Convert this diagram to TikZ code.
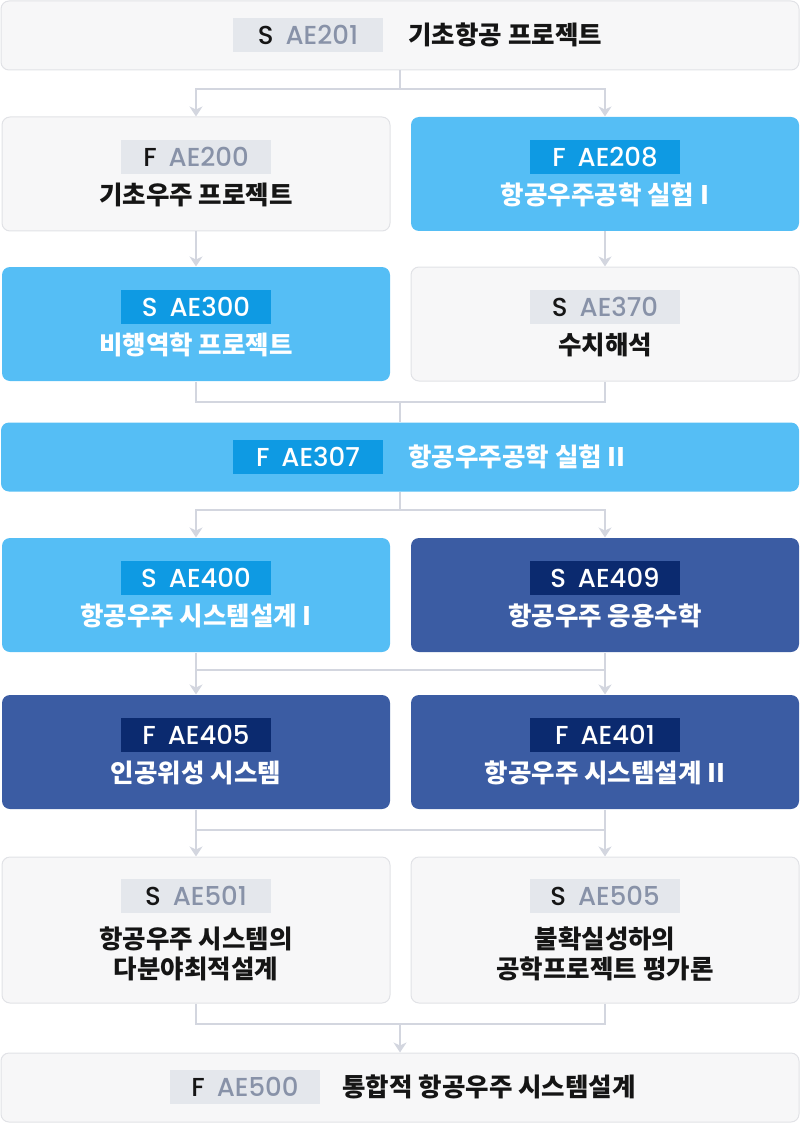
\documentclass[tikz,border=0pt]{standalone}
\usepackage{fontspec}
\usetikzlibrary{arrows.meta}
\newfontfamily\kr{Noto Sans CJK KR}
\newfontfamily\code{Poppins}[UprightFont=* Medium]
\definecolor{boxgray}{HTML}{F7F7F8}
\definecolor{boxline}{HTML}{E1E2E6}
\definecolor{taggray}{HTML}{E4E7EC}
\definecolor{tagtext}{HTML}{8892A8}
\definecolor{ink}{HTML}{151515}
\definecolor{skyblue}{HTML}{55BEF5}
\definecolor{skytag}{HTML}{0E9AE3}
\definecolor{navyblue}{HTML}{3B5CA3}
\definecolor{navytag}{HTML}{0B2A6F}
\definecolor{linkgray}{HTML}{D3D6DF}
\begin{document}
\begin{tikzpicture}
    [
    x=1pt,y=-1pt,
    box/.style={rectangle,rounded corners=8pt,draw=boxline,line width=1pt,fill=boxgray,inner sep=0pt,minimum width=388pt,minimum height=114pt},
    wide/.style={box,minimum width=798pt,minimum height=69pt},
    tall/.style={box,minimum height=146pt},
    sky/.style={draw=none,fill=skyblue},
    navy/.style={draw=none,fill=navyblue},
    tag/.style={rectangle,fill=taggray,text=tagtext,inner sep=0pt,minimum width=150pt,minimum height=34pt,font=\code\fontsize{26}{26}\selectfont},
    skycode/.style={tag,fill=skytag,text=white},
    navycode/.style={tag,fill=navytag,text=white},
    title/.style={font=\kr\bfseries\fontsize{25.5}{30}\selectfont,text=ink,align=center},
    white/.style={text=white},
    line/.style={draw=linkgray,line width=2pt},
    link/.style={line,-{Stealth[length=10pt,width=13pt,inset=3pt]}}
    ]
    \useasboundingbox (0,0) rectangle (800,1123);
    % courses
    \node (ae201) at (400,35.5) [wide] {};
    \node (ae200) at (196,174) [box] {};
    \node (ae208) at (605,174) [box,sky] {};
    \node (ae300) at (196,324) [box,sky] {};
    \node (ae370) at (605,324) [box] {};
    \node (ae307) at (400,457) [wide,sky] {};
    \node (ae400) at (196,595) [box,sky] {};
    \node (ae409) at (605,595) [box,navy] {};
    \node (ae405) at (196,752) [box,navy] {};
    \node (ae401) at (605,752) [box,navy] {};
    \node (ae501) at (196,930) [tall] {};
    \node (ae505) at (605,930) [tall] {};
    \node (ae500) at (400,1087.5) [wide] {};
    % codes and names
    \node (c201) at (308,35) [tag] {\textcolor{ink}{S}\hspace{12pt}AE201};
    \node (n201) at (405,35) [title,anchor=west] {기초항공 프로젝트};
    \node (c200) at (196,157) [tag] {\textcolor{ink}{F}\hspace{12pt}AE200};
    \node (n200) at (196,195) [title] {기초우주 프로젝트};
    \node (c208) at (605,157) [skycode] {F\hspace{12pt}AE208};
    \node (n208) at (605,195) [title,white] {항공우주공학 실험 I};
    \node (c300) at (196,307) [skycode] {S\hspace{12pt}AE300};
    \node (n300) at (196,345) [title,white] {비행역학 프로젝트};
    \node (c370) at (605,307) [tag] {\textcolor{ink}{S}\hspace{12pt}AE370};
    \node (n370) at (605,345) [title] {수치해석};
    \node (c307) at (308,457) [skycode] {F\hspace{12pt}AE307};
    \node (n307) at (405,457) [title,white,anchor=west] {항공우주공학 실험 II};
    \node (c400) at (196,578) [skycode] {S\hspace{12pt}AE400};
    \node (n400) at (196,616) [title,white] {항공우주 시스템설계 I};
    \node (c409) at (605,578) [navycode] {S\hspace{12pt}AE409};
    \node (n409) at (605,616) [title,white] {항공우주 응용수학};
    \node (c405) at (196,735) [navycode] {F\hspace{12pt}AE405};
    \node (n405) at (196,773) [title,white] {인공위성 시스템};
    \node (c401) at (605,735) [navycode] {F\hspace{12pt}AE401};
    \node (n401) at (605,773) [title,white] {항공우주 시스템설계 II};
    \node (c501) at (196,896) [tag] {\textcolor{ink}{S}\hspace{12pt}AE501};
    \node (n501) at (196,954) [title] {항공우주 시스템의\\다분야최적설계};
    \node (c505) at (605,896) [tag] {\textcolor{ink}{S}\hspace{12pt}AE505};
    \node (n505) at (605,954) [title] {불확실성하의\\공학프로젝트 평가론};
    \node (c500) at (245,1087) [tag] {\textcolor{ink}{F}\hspace{12pt}AE500};
    \node (n500) at (339,1087) [title,anchor=west] {통합적 항공우주 시스템설계};
    % junctions
    \coordinate (j1) at (400,89);
    \coordinate (j2) at (400,402);
    \coordinate (j3) at (400,510);
    \coordinate (j4) at (400,670);
    \coordinate (j5) at (400,830);
    \coordinate (j6) at (400,1024);
    % prerequisites
    \draw [link] (ae201) -- (j1) -| (ae200);
    \draw [link] (j1) -| (ae208);
    \draw [link] (ae200) -- (ae300);
    \draw [link] (ae208) -- (ae370);
    \draw [line] (ae300) |- (j2) -| (ae370);
    \draw [line] (j2) -- (ae307);
    \draw [link] (ae307) -- (j3) -| (ae400);
    \draw [link] (j3) -| (ae409);
    \draw [line] (ae400) |- (j4) -| (ae409);
    \draw [link] (j4) -| (ae405);
    \draw [link] (j4) -| (ae401);
    \draw [line] (ae405) |- (j5) -| (ae401);
    \draw [link] (j5) -| (ae501);
    \draw [link] (j5) -| (ae505);
    \draw [line] (ae501) |- (j6) -| (ae505);
    \draw [link] (j6) -- (ae500);
  \end{tikzpicture}
\end{document}
